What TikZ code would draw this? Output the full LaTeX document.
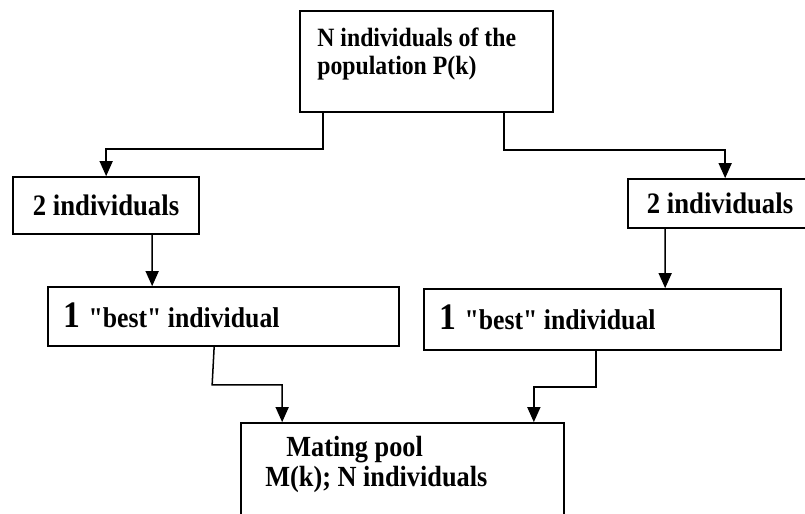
\documentclass[tikz,border=0pt]{standalone}
\usepackage{fontspec}
\setmainfont{Liberation Serif}[Ligatures=TeXOff,FakeStretch=0.9]
\usetikzlibrary{arrows.meta}
\newcommand{\fs}[1]{\fontsize{#1bp}{#1bp}\selectfont}

\begin{document}
\begin{tikzpicture}[x=1bp,y=-1bp,
    box/.style={draw,line width=1.7bp,inner sep=0pt},
    txt/.style={anchor=base west,inner sep=0pt,font=\bfseries},
    flow/.style={line width=1.5bp,-{Triangle[length=15bp,width=13bp]}}]
          \useasboundingbox (0,0) rectangle (805,514);
          \clip (0,0) rectangle (805,514);

          % boxes
          \node[box,minimum width=253bp,minimum height=101bp] (pop) at (426.5,61.5) {};
          \node[box,minimum width=186bp,minimum height=57bp,font=\bfseries\fs{29.7}] (two1) at (106,205.5) {2 individuals};
          \node[box,minimum width=184bp,minimum height=49bp,font=\bfseries\fs{29.7}] (two2) at (720,203.5) {2 individuals};
          \node[box,minimum width=351bp,minimum height=59bp] (best1) at (223.5,316.5) {};
          \node[box,minimum width=357bp,minimum height=61bp] (best2) at (602.5,319.5) {};
          \node[box,minimum width=323bp,minimum height=114bp] (pool) at (402.5,480) {};

          % texts
          \node[txt,font=\bfseries\fs{26.4}] (popa) at ([shift={(18,36)}]pop.north west) {N individuals of the};
          \node[txt,font=\bfseries\fs{26.4}] (popb) at ([shift={(18,64)}]pop.north west) {population P(k)};
          \node[txt] (besta) at ([shift={(16,41)}]best1.north west) {\fs{37.4}1 \fs{28.6}"best" individual};
          \node[txt] (bestb) at ([shift={(16,41)}]best2.north west) {\fs{37.4}1 \fs{28.6}"best" individual};
          \node[txt,font=\bfseries\fs{29.2}] (poola) at ([shift={(46,34)}]pool.north west) {Mating pool};
          \node[txt,font=\bfseries\fs{29.2}] (poolb) at ([shift={(25,64)}]pool.north west) {M(k); N individuals};

          % connectors
          \draw[flow] ([xshift=24bp]pop.south west) -- ++(0,36) -| ([xshift=94bp]two1.north west);
          \draw[flow] ([xshift=-50bp]pop.south east) -- ++(0,37) -| ([xshift=98bp]two2.north west);
          \draw[flow] ([xshift=140bp]two1.south west) -- ([xshift=105bp]best1.north west);
          \draw[flow] ([xshift=38bp]two2.south west) -- ([xshift=242bp]best2.north west);
          \draw[flow] ([xshift=167bp]best1.south west) -- ++(-2,38) -| ([xshift=42bp]pool.north west);
          \draw[flow] ([xshift=173bp]best2.south west) -- ++(0,36) -| ([xshift=-31bp]pool.north east);
        \end{tikzpicture}
\end{document}
